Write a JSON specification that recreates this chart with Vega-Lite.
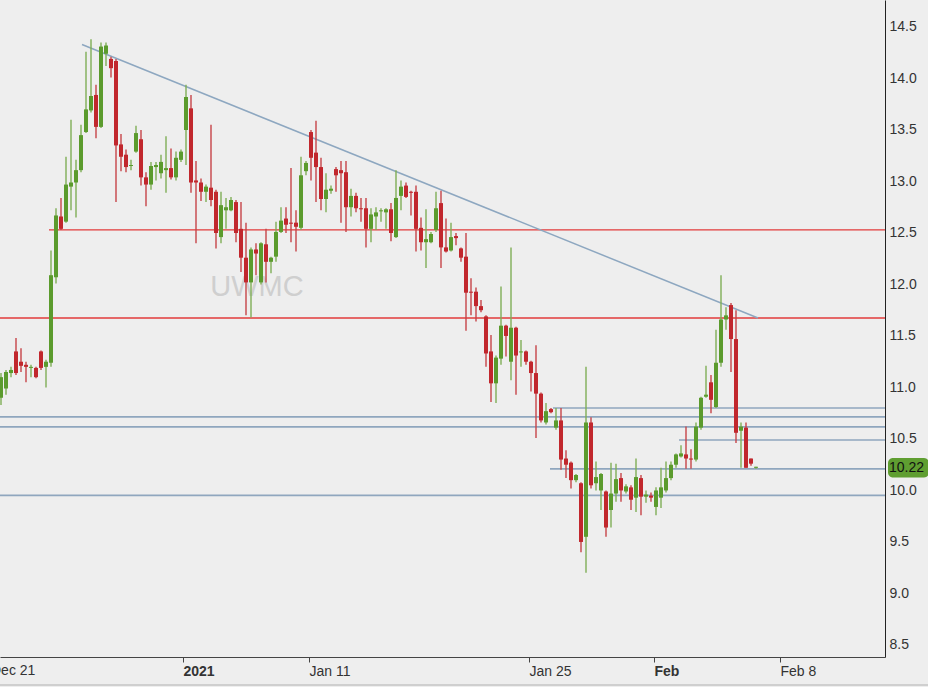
{
  "$schema": "https://vega.github.io/schema/vega-lite/v6.json",
  "width": 885,
  "height": 657,
  "autosize": {"type": "none"},
  "padding": {"left": 0, "top": 0, "right": 43, "bottom": 30},
  "background": "#eeeeee",
  "view": {"stroke": null},
  "config": {"font": "Liberation Sans"},
  "datasets": {
    "candles": [
      {"n":0,"o":10.90,"h":11.14,"l":10.83,"c":11.10},
      {"n":1,"o":10.99,"h":11.17,"l":10.93,"c":11.15},
      {"n":2,"o":11.14,"h":11.20,"l":11.10,"c":11.17},
      {"n":3,"o":11.35,"h":11.48,"l":11.12,"c":11.14},
      {"n":4,"o":11.25,"h":11.38,"l":11.15,"c":11.21},
      {"n":5,"o":11.22,"h":11.25,"l":11.05,"c":11.20},
      {"n":6,"o":11.19,"h":11.22,"l":11.10,"c":11.20},
      {"n":7,"o":11.19,"h":11.20,"l":11.09,"c":11.10},
      {"n":8,"o":11.35,"h":11.36,"l":11.17,"c":11.19},
      {"n":9,"o":11.20,"h":11.27,"l":11.00,"c":11.25},
      {"n":10,"o":11.24,"h":12.33,"l":11.20,"c":12.09},
      {"n":11,"o":12.07,"h":12.74,"l":12.01,"c":12.67},
      {"n":12,"o":12.66,"h":12.84,"l":12.53,"c":12.54},
      {"n":13,"o":12.61,"h":13.24,"l":12.60,"c":12.97},
      {"n":14,"o":12.95,"h":13.60,"l":12.72,"c":12.99},
      {"n":15,"o":12.99,"h":13.21,"l":12.65,"c":13.11},
      {"n":16,"o":13.11,"h":13.55,"l":13.09,"c":13.45},
      {"n":17,"o":13.48,"h":14.26,"l":13.47,"c":13.70},
      {"n":18,"o":13.69,"h":14.38,"l":13.67,"c":13.83},
      {"n":19,"o":13.84,"h":13.94,"l":13.42,"c":13.53},
      {"n":20,"o":13.53,"h":14.35,"l":13.52,"c":14.31},
      {"n":21,"o":14.24,"h":14.35,"l":14.12,"c":14.32},
      {"n":22,"o":14.19,"h":14.21,"l":14.01,"c":14.10},
      {"n":23,"o":14.17,"h":14.19,"l":12.80,"c":13.35},
      {"n":24,"o":13.36,"h":13.46,"l":13.10,"c":13.24},
      {"n":25,"o":13.26,"h":13.31,"l":13.09,"c":13.14},
      {"n":26,"o":13.15,"h":13.21,"l":13.11,"c":13.16},
      {"n":27,"o":13.29,"h":13.54,"l":13.28,"c":13.47},
      {"n":28,"o":13.41,"h":13.50,"l":12.96,"c":13.04},
      {"n":29,"o":13.04,"h":13.09,"l":12.76,"c":12.97},
      {"n":30,"o":12.97,"h":13.19,"l":12.92,"c":13.15},
      {"n":31,"o":13.14,"h":13.19,"l":13.01,"c":13.16},
      {"n":32,"o":13.08,"h":13.26,"l":13.03,"c":13.19},
      {"n":33,"o":13.11,"h":13.44,"l":12.89,"c":13.13},
      {"n":34,"o":13.13,"h":13.32,"l":13.02,"c":13.04},
      {"n":35,"o":13.04,"h":13.29,"l":13.01,"c":13.23},
      {"n":36,"o":13.21,"h":13.31,"l":13.19,"c":13.29},
      {"n":37,"o":13.50,"h":13.94,"l":13.16,"c":13.82},
      {"n":38,"o":13.71,"h":13.84,"l":12.89,"c":12.99},
      {"n":39,"o":13.01,"h":13.20,"l":12.40,"c":12.99},
      {"n":40,"o":12.99,"h":13.03,"l":12.81,"c":12.90},
      {"n":41,"o":12.90,"h":12.97,"l":12.80,"c":12.95},
      {"n":42,"o":12.94,"h":13.55,"l":12.76,"c":12.82},
      {"n":43,"o":12.90,"h":12.92,"l":12.35,"c":12.50},
      {"n":44,"o":12.46,"h":12.90,"l":12.40,"c":12.77},
      {"n":45,"o":12.72,"h":12.84,"l":12.54,"c":12.75},
      {"n":46,"o":12.72,"h":12.85,"l":12.71,"c":12.82},
      {"n":47,"o":12.80,"h":12.82,"l":12.41,"c":12.50},
      {"n":48,"o":12.54,"h":12.80,"l":12.12,"c":12.26},
      {"n":49,"o":12.26,"h":12.60,"l":11.70,"c":12.02},
      {"n":50,"o":12.02,"h":12.36,"l":11.68,"c":12.34},
      {"n":51,"o":12.34,"h":12.40,"l":12.09,"c":12.30},
      {"n":52,"o":12.02,"h":12.41,"l":12.00,"c":12.40},
      {"n":53,"o":12.39,"h":12.54,"l":12.02,"c":12.22},
      {"n":54,"o":12.22,"h":12.27,"l":12.11,"c":12.26},
      {"n":55,"o":12.27,"h":12.61,"l":12.22,"c":12.51},
      {"n":56,"o":12.51,"h":12.75,"l":12.50,"c":12.62},
      {"n":57,"o":12.64,"h":12.75,"l":12.50,"c":12.58},
      {"n":58,"o":12.60,"h":13.13,"l":12.41,"c":12.59},
      {"n":59,"o":12.60,"h":12.72,"l":12.32,"c":12.56},
      {"n":60,"o":12.55,"h":13.24,"l":12.53,"c":13.06},
      {"n":61,"o":13.10,"h":13.20,"l":13.06,"c":13.18},
      {"n":62,"o":13.48,"h":13.50,"l":13.01,"c":13.23},
      {"n":63,"o":13.28,"h":13.59,"l":12.80,"c":13.14},
      {"n":64,"o":13.14,"h":13.23,"l":12.72,"c":12.83},
      {"n":65,"o":12.83,"h":13.08,"l":12.70,"c":12.92},
      {"n":66,"o":12.91,"h":12.96,"l":12.88,"c":12.93},
      {"n":67,"o":13.12,"h":13.14,"l":12.90,"c":13.06},
      {"n":68,"o":13.11,"h":13.20,"l":12.60,"c":13.08},
      {"n":69,"o":13.09,"h":13.20,"l":12.51,"c":12.75},
      {"n":70,"o":12.75,"h":12.93,"l":12.66,"c":12.86},
      {"n":71,"o":12.86,"h":12.89,"l":12.70,"c":12.74},
      {"n":72,"o":12.74,"h":12.84,"l":12.61,"c":12.73},
      {"n":73,"o":12.74,"h":12.84,"l":12.36,"c":12.54},
      {"n":74,"o":12.54,"h":12.74,"l":12.41,"c":12.68},
      {"n":75,"o":12.66,"h":12.75,"l":12.53,"c":12.70},
      {"n":76,"o":12.71,"h":12.74,"l":12.61,"c":12.72},
      {"n":77,"o":12.70,"h":12.74,"l":12.54,"c":12.73},
      {"n":78,"o":12.73,"h":12.79,"l":12.42,"c":12.50},
      {"n":79,"o":12.46,"h":13.11,"l":12.45,"c":12.84},
      {"n":80,"o":12.86,"h":13.01,"l":12.72,"c":12.95},
      {"n":81,"o":12.96,"h":12.99,"l":12.84,"c":12.85},
      {"n":82,"o":12.90,"h":12.91,"l":12.67,"c":12.89},
      {"n":83,"o":12.90,"h":12.96,"l":12.32,"c":12.54},
      {"n":84,"o":12.55,"h":12.65,"l":12.33,"c":12.41},
      {"n":85,"o":12.41,"h":12.73,"l":12.16,"c":12.44},
      {"n":86,"o":12.41,"h":12.51,"l":12.40,"c":12.49},
      {"n":87,"o":12.53,"h":12.90,"l":12.51,"c":12.74},
      {"n":88,"o":12.79,"h":12.91,"l":12.16,"c":12.36},
      {"n":89,"o":12.36,"h":12.64,"l":12.31,"c":12.32},
      {"n":90,"o":12.33,"h":12.60,"l":12.32,"c":12.46},
      {"n":91,"o":12.47,"h":12.50,"l":12.38,"c":12.45},
      {"n":92,"o":12.35,"h":12.36,"l":12.22,"c":12.26},
      {"n":93,"o":12.27,"h":12.50,"l":11.55,"c":11.92},
      {"n":94,"o":11.93,"h":12.06,"l":11.70,"c":11.92},
      {"n":95,"o":11.93,"h":11.97,"l":11.64,"c":11.79},
      {"n":96,"o":11.79,"h":11.85,"l":11.73,"c":11.75},
      {"n":97,"o":11.69,"h":11.70,"l":11.20,"c":11.33},
      {"n":98,"o":11.35,"h":11.51,"l":10.86,"c":11.04},
      {"n":99,"o":11.04,"h":11.31,"l":10.85,"c":11.29},
      {"n":100,"o":11.28,"h":11.98,"l":11.22,"c":11.60},
      {"n":101,"o":11.60,"h":11.61,"l":11.30,"c":11.50},
      {"n":102,"o":11.25,"h":12.36,"l":11.07,"c":11.58},
      {"n":103,"o":11.58,"h":11.59,"l":10.93,"c":11.31},
      {"n":104,"o":11.34,"h":11.46,"l":11.20,"c":11.35},
      {"n":105,"o":11.35,"h":11.36,"l":11.22,"c":11.25},
      {"n":106,"o":11.25,"h":11.26,"l":10.96,"c":11.14},
      {"n":107,"o":11.14,"h":11.41,"l":10.51,"c":10.94},
      {"n":108,"o":10.94,"h":10.95,"l":10.66,"c":10.68},
      {"n":109,"o":10.66,"h":10.85,"l":10.64,"c":10.77},
      {"n":110,"o":10.79,"h":10.80,"l":10.75,"c":10.76},
      {"n":111,"o":10.61,"h":10.80,"l":10.59,"c":10.68},
      {"n":112,"o":10.68,"h":10.80,"l":10.20,"c":10.30},
      {"n":113,"o":10.31,"h":10.39,"l":10.12,"c":10.25},
      {"n":114,"o":10.27,"h":10.28,"l":10.02,"c":10.10},
      {"n":115,"o":10.10,"h":10.16,"l":10.08,"c":10.15},
      {"n":116,"o":10.07,"h":10.08,"l":9.40,"c":9.50},
      {"n":117,"o":9.55,"h":11.20,"l":9.20,"c":10.66},
      {"n":118,"o":10.66,"h":10.71,"l":10.02,"c":10.05},
      {"n":119,"o":10.07,"h":10.28,"l":10.00,"c":10.13},
      {"n":120,"o":10.00,"h":10.17,"l":9.81,"c":10.16},
      {"n":121,"o":9.99,"h":10.00,"l":9.55,"c":9.64},
      {"n":122,"o":9.81,"h":10.27,"l":9.64,"c":9.97},
      {"n":123,"o":9.97,"h":10.26,"l":9.89,"c":10.11},
      {"n":124,"o":10.12,"h":10.17,"l":9.89,"c":10.00},
      {"n":125,"o":9.99,"h":10.06,"l":9.97,"c":10.04},
      {"n":126,"o":10.03,"h":10.05,"l":9.81,"c":9.91},
      {"n":127,"o":9.93,"h":10.31,"l":9.79,"c":10.13},
      {"n":128,"o":10.12,"h":10.15,"l":9.76,"c":9.94},
      {"n":129,"o":9.94,"h":10.00,"l":9.88,"c":9.96},
      {"n":130,"o":9.95,"h":9.98,"l":9.89,"c":9.93},
      {"n":131,"o":9.84,"h":10.03,"l":9.76,"c":10.00},
      {"n":132,"o":9.93,"h":10.22,"l":9.83,"c":10.03},
      {"n":133,"o":10.00,"h":10.28,"l":9.98,"c":10.12},
      {"n":134,"o":10.12,"h":10.28,"l":10.10,"c":10.25},
      {"n":135,"o":10.25,"h":10.36,"l":10.22,"c":10.35},
      {"n":136,"o":10.33,"h":10.44,"l":10.32,"c":10.36},
      {"n":137,"o":10.35,"h":10.62,"l":10.21,"c":10.31},
      {"n":138,"o":10.31,"h":10.40,"l":10.21,"c":10.30},
      {"n":139,"o":10.30,"h":10.66,"l":10.28,"c":10.62},
      {"n":140,"o":10.61,"h":10.91,"l":10.59,"c":10.90},
      {"n":141,"o":10.91,"h":11.21,"l":10.90,"c":10.93},
      {"n":142,"o":11.05,"h":11.12,"l":10.75,"c":10.88},
      {"n":143,"o":10.81,"h":11.56,"l":10.80,"c":11.24},
      {"n":144,"o":11.24,"h":12.09,"l":11.20,"c":11.66},
      {"n":145,"o":11.66,"h":11.78,"l":11.56,"c":11.70},
      {"n":146,"o":11.80,"h":11.82,"l":11.15,"c":11.47},
      {"n":147,"o":11.47,"h":11.75,"l":10.46,"c":10.56},
      {"n":148,"o":10.58,"h":10.66,"l":10.22,"c":10.62},
      {"n":149,"o":10.61,"h":10.66,"l":10.22,"c":10.22},
      {"n":150,"o":10.31,"h":10.31,"l":10.24,"c":10.26},
      {"n":151,"o":10.22,"h":10.23,"l":10.21,"c":10.23}
    ],
    "redLevels": [
      {"start": 9.6, "p": 12.53},
      {"start": -0.2, "p": 11.675}
    ],
    "blueLevels": [
      {"start": 110.4, "p": 10.80},
      {"start": -0.2, "p": 10.714},
      {"start": -0.2, "p": 10.617},
      {"start": 135.6, "p": 10.49},
      {"start": 109.8, "p": 10.21},
      {"start": -0.2, "p": 9.952}
    ],
    "trend": [
      {"n1": 16.2, "p1": 14.33, "n2": 151.4, "p2": 11.675}
    ],
    "watermark": [
      {"n": 51.2, "p": 11.976, "label": "UWMC"}
    ],
    "last": [
      {"price": 10.22}
    ],
    "edgeLabel": [
      {"n": -2, "label": "Dec 21"}
    ],
    "frame": [
      {"p": 8.112}
    ]
  },
  "layer": [
    {
      "data": {"name": "redLevels"},
      "mark": {"type": "rule", "color": "#e23a3a", "strokeWidth": 1.4},
      "encoding": {
        "x": {"field": "start", "type": "quantitative", "scale": {"domain": [-0.2, 176.8], "nice": false, "zero": false},
          "axis": {"orient": "bottom", "title": null, "values": [36.4, 61.6, 105.6, 130.6, 155.8],
            "labelExpr": "datum.value < 40 ? '2021' : datum.value < 70 ? 'Jan 11' : datum.value < 110 ? 'Jan 25' : datum.value < 140 ? 'Feb' : 'Feb 8'",
            "labelFontWeight": {"condition": {"test": "datum.value < 40 || (datum.value > 120 && datum.value < 140)", "value": "bold"}, "value": "normal"},
            "labelAlign": "left", "labelBaseline": "top", "labelPadding": 2, "labelFontSize": 14, "labelColor": "#333333",
            "labelFlush": false, "labelOverlap": false, "tickSize": 5, "tickColor": "#444444", "domainColor": "#444444", "grid": false}},
        "x2": {"datum": 176.8},
        "y": {"field": "p", "type": "quantitative", "scale": {"domain": [8.383, 14.762], "nice": false, "zero": false},
          "axis": {"orient": "right", "title": null, "values": [8.5, 9, 9.5, 10, 10.5, 11, 11.5, 12, 12.5, 13, 13.5, 14, 14.5],
            "format": ".1f", "ticks": false, "labelPadding": 4, "labelFontSize": 14, "labelColor": "#333333",
            "domainColor": "#222222", "grid": false, "labelFlush": false, "labelOverlap": false}}
      }
    },
    {
      "data": {"name": "blueLevels"},
      "mark": {"type": "rule", "color": "#8fa6be", "strokeWidth": 1.6},
      "encoding": {
        "x": {"field": "start", "type": "quantitative", "title": null, "scale": {"domain": [-0.2, 176.8], "nice": false, "zero": false}},
        "x2": {"datum": 176.8},
        "y": {"field": "p", "type": "quantitative", "title": null, "scale": {"domain": [8.383, 14.762], "nice": false, "zero": false}}
      }
    },
    {
      "data": {"name": "frame"},
      "mark": {"type": "rule", "color": "#c4c4c4", "strokeWidth": 1.5},
      "encoding": {
        "x": {"datum": -0.2, "type": "quantitative", "scale": {"domain": [-0.2, 176.8], "nice": false, "zero": false}},
        "x2": {"datum": 185.6},
        "y": {"field": "p", "type": "quantitative", "title": null, "scale": {"domain": [8.383, 14.762], "nice": false, "zero": false}}
      }
    },
    {
      "data": {"name": "trend"},
      "mark": {"type": "rule", "color": "#8da7c0", "strokeWidth": 1.5},
      "encoding": {
        "x": {"field": "n1", "type": "quantitative", "title": null, "scale": {"domain": [-0.2, 176.8], "nice": false, "zero": false}},
        "x2": {"field": "n2"},
        "y": {"field": "p1", "type": "quantitative", "title": null, "scale": {"domain": [8.383, 14.762], "nice": false, "zero": false}},
        "y2": {"field": "p2"}
      }
    },
    {
      "data": {"name": "watermark"},
      "mark": {"type": "text", "fontSize": 29, "color": "#cfcfcf", "align": "center", "baseline": "middle"},
      "encoding": {
        "x": {"field": "n", "type": "quantitative", "title": null, "scale": {"domain": [-0.2, 176.8], "nice": false, "zero": false}},
        "y": {"field": "p", "type": "quantitative", "title": null, "scale": {"domain": [8.383, 14.762], "nice": false, "zero": false}},
        "text": {"field": "label"}
      }
    },
    {
      "data": {"name": "candles"},
      "mark": {"type": "rule", "strokeWidth": 1.4},
      "encoding": {
        "x": {"field": "n", "type": "quantitative", "title": null, "scale": {"domain": [-0.2, 176.8], "nice": false, "zero": false}},
        "y": {"field": "l", "type": "quantitative", "title": null, "scale": {"domain": [8.383, 14.762], "nice": false, "zero": false}},
        "y2": {"field": "h"},
        "color": {"condition": {"test": "datum.c >= datum.o", "value": "#7fae56"}, "value": "#c64448"}
      }
    },
    {
      "data": {"name": "candles"},
      "mark": {"type": "rule", "strokeWidth": 4, "strokeCap": "butt"},
      "encoding": {
        "x": {"field": "n", "type": "quantitative", "title": null, "scale": {"domain": [-0.2, 176.8], "nice": false, "zero": false}},
        "y": {"field": "o", "type": "quantitative", "title": null, "scale": {"domain": [8.383, 14.762], "nice": false, "zero": false}},
        "y2": {"field": "c"},
        "color": {"condition": {"test": "datum.c >= datum.o", "value": "#5b9b2d"}, "value": "#c1272d"}
      }
    },
    {
      "data": {"name": "last"},
      "mark": {"type": "rect", "color": "#5f9e31", "cornerRadius": 5},
      "encoding": {
        "x": {"datum": 177.4, "type": "quantitative", "scale": {"domain": [-0.2, 176.8], "nice": false, "zero": false}},
        "x2": {"datum": 185.6},
        "y": {"datum": 10.315, "type": "quantitative", "scale": {"domain": [8.383, 14.762], "nice": false, "zero": false}},
        "y2": {"datum": 10.125}
      }
    },
    {
      "data": {"name": "last"},
      "mark": {"type": "text", "fontSize": 14, "color": "#111111", "align": "left", "baseline": "middle"},
      "encoding": {
        "x": {"datum": 177.6, "type": "quantitative", "scale": {"domain": [-0.2, 176.8], "nice": false, "zero": false}},
        "y": {"field": "price", "type": "quantitative", "title": null, "scale": {"domain": [8.383, 14.762], "nice": false, "zero": false}},
        "text": {"field": "price", "format": ".2f"}
      }
    },
    {
      "data": {"name": "edgeLabel"},
      "mark": {"type": "text", "fontSize": 14, "color": "#333333", "align": "left", "baseline": "top"},
      "encoding": {
        "x": {"field": "n", "type": "quantitative", "title": null, "scale": {"domain": [-0.2, 176.8], "nice": false, "zero": false}},
        "y": {"datum": 8.315, "type": "quantitative", "scale": {"domain": [8.383, 14.762], "nice": false, "zero": false}},
        "text": {"field": "label"}
      }
    }
  ]
}
